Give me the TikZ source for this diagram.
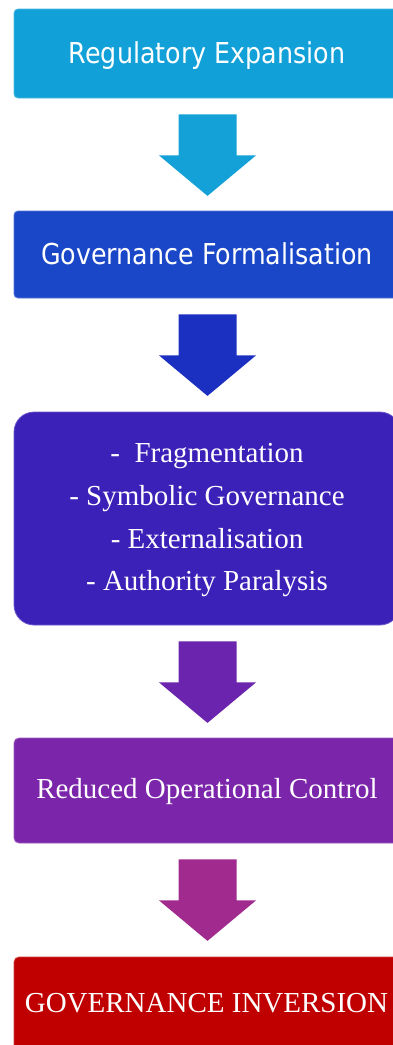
\documentclass[tikz,border=0pt]{standalone}
\usepackage{fontspec}
\setmainfont{Liberation Serif}
\newfontfamily\tahfont[FakeStretch=0.88]{DejaVu Sans}
\usetikzlibrary{calc}
\definecolor{c1}{HTML}{12A0D8}
\definecolor{c2}{HTML}{1A47C8}
\definecolor{c3}{HTML}{3C21B8}
\definecolor{c4}{HTML}{7B25AA}
\definecolor{c5}{HTML}{C00000}
\definecolor{a1}{HTML}{13A1D7}
\definecolor{a2}{HTML}{1B30C0}
\definecolor{a3}{HTML}{6A24AE}
\definecolor{a4}{HTML}{A02A8E}
\tikzset{
  boxshape/.style={rectangle, minimum width=386pt, inner sep=0pt, line width=0.8pt},
  sanstext/.style={text=white, inner sep=0pt, font=\tahfont\fontsize{28.8}{34}\selectfont},
  seriftext/.style={text=white, inner sep=0pt, align=center, font=\fontsize{29}{42.7}\selectfont},
}
\newcommand{\blockarrow}[2]{%
  \fill[#2] ($(#1.south)+(-28.5,16)$) -- ($(#1.south)+(29.5,16)$) -- ($(#1.south)+(29.5,57)$)
    -- ($(#1.south)+(49,57)$) -- ($(#1.south)+(0.5,97.5)$) -- ($(#1.south)+(-48,57)$)
    -- ($(#1.south)+(-28.5,57)$) -- cycle;}
\begin{document}
\begin{tikzpicture}[x=1pt,y=-1pt]
\useasboundingbox (0,0) rectangle (392,1045);
% boxes
\node[boxshape, fill=c1, draw=c1!75!white, rounded corners=4pt, minimum height=89pt] (b1) at (207,53.5) {};
\node[boxshape, fill=c2, draw=c2!75!white, rounded corners=4pt, minimum height=87pt] (b2) at (207,254.5) {};
\node[boxshape, fill=c3, draw=c3!75!white, rounded corners=20pt, minimum height=213pt] (b3) at (207,518.5) {};
\node[boxshape, fill=c4, draw=c4!75!white, rounded corners=5pt, minimum height=105pt] (b4) at (207,790.5) {};
\node[boxshape, fill=c5, draw=c5!75!white, rounded corners=5pt, minimum height=113pt] (b5) at (207,1013.5) {};
% texts
\node[sanstext, anchor=base] (t1) at (207,63) {Regulatory Expansion};
\node[sanstext, anchor=base] (t2) at (207,264) {Governance Formalisation};
\node[seriftext] (t3) at (207,520.3) {-\ \ Fragmentation\\- Symbolic Governance\\- Externalisation\\- Authority Paralysis};
\node[seriftext, anchor=base] (t4) at (207,798) {Reduced Operational Control};
\node[seriftext, anchor=base] (t5) at (206.5,1012) {GOVERNANCE INVERSION};
% arrows
\blockarrow{b1}{a1}
\blockarrow{b2}{a2}
\blockarrow{b3}{a3}
\blockarrow{b4}{a4}
\end{tikzpicture}
\end{document}
